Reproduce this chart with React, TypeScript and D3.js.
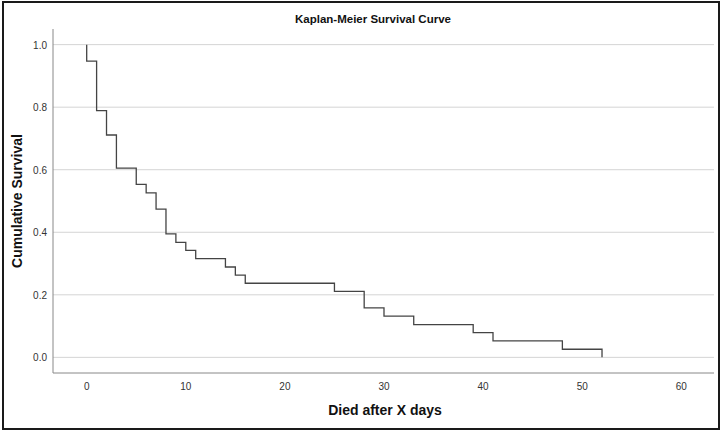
import * as d3 from "d3";

const width = 723;
const height = 434;

// Kaplan-Meier step data (time of event, survival after the event)
const eventDays = [0, 1, 2, 3, 5, 6, 7, 8, 9, 10, 11, 14, 15, 16, 25, 28, 30, 33, 39, 41, 48, 52];
const survival = [
  0.947, 0.789, 0.711, 0.605, 0.553, 0.526, 0.474, 0.395, 0.368, 0.342, 0.316,
  0.289, 0.263, 0.237, 0.211, 0.158, 0.132, 0.105, 0.079, 0.053, 0.026, 0.0,
];
const yTicks = [0, 0.2, 0.4, 0.6, 0.8, 1.0];
const xTicks = [0, 10, 20, 30, 40, 50, 60];

const plot = { left: 53, right: 714, top: 29, bottom: 373 };

const x = d3.scaleLinear().domain([-3.4, 63.3]).range([plot.left, plot.right]);
const y = d3.scaleLinear().domain([-0.05, 1.05]).range([plot.bottom, plot.top]);

const font = "'Liberation Sans', Arial, sans-serif";

export default function App() {
  const points: [number, number][] = [[0, 1], ...eventDays.map((d, i) => [d, survival[i]] as [number, number])];
  const path = d3
    .line<[number, number]>()
    .x((d) => x(d[0]))
    .y((d) => y(d[1]))
    .curve(d3.curveStepAfter)(points);

  return (
    <>
      <style>{`body{margin:0}`}</style>
      <svg width={width} height={height} style={{ display: "block", fontFamily: font }}>
        <rect x={0} y={0} width={width} height={height} fill="#fff" />
        <rect x={3} y={2} width={716} height={427} fill="none" stroke="#1a1a1a" strokeWidth={2} />

        <text x={373} y={23} textAnchor="middle" fontSize={11.5} fontWeight="bold" fill="#111">
          Kaplan-Meier Survival Curve
        </text>

        {yTicks.map((t) => (
          <g key={t}>
            <line x1={plot.left} x2={plot.right} y1={y(t)} y2={y(t)} stroke="#d4d4d4" strokeWidth={1} />
            <text x={47} y={y(t) + 4} textAnchor="end" fontSize={10} fill="#333">
              {t.toFixed(1)}
            </text>
          </g>
        ))}

        <line x1={plot.left} x2={plot.left} y1={plot.top} y2={plot.bottom} stroke="#888" strokeWidth={1} />
        <line x1={plot.left} x2={plot.right} y1={plot.bottom} y2={plot.bottom} stroke="#888" strokeWidth={1} />

        {xTicks.map((t) => (
          <text key={t} x={x(t)} y={390} textAnchor="middle" fontSize={10} fill="#333">
            {t}
          </text>
        ))}

        <path d={path ?? ""} fill="none" stroke="#444" strokeWidth={1.3} />

        <text x={385} y={415} textAnchor="middle" fontSize={14} fontWeight="bold" fill="#111">
          Died after X days
        </text>
        <text
          transform={`translate(22,${(plot.top + plot.bottom) / 2}) rotate(-90)`}
          textAnchor="middle"
          fontSize={14}
          fontWeight="bold"
          fill="#111"
        >
          Cumulative Survival
        </text>
      </svg>
    </>
  );
}
